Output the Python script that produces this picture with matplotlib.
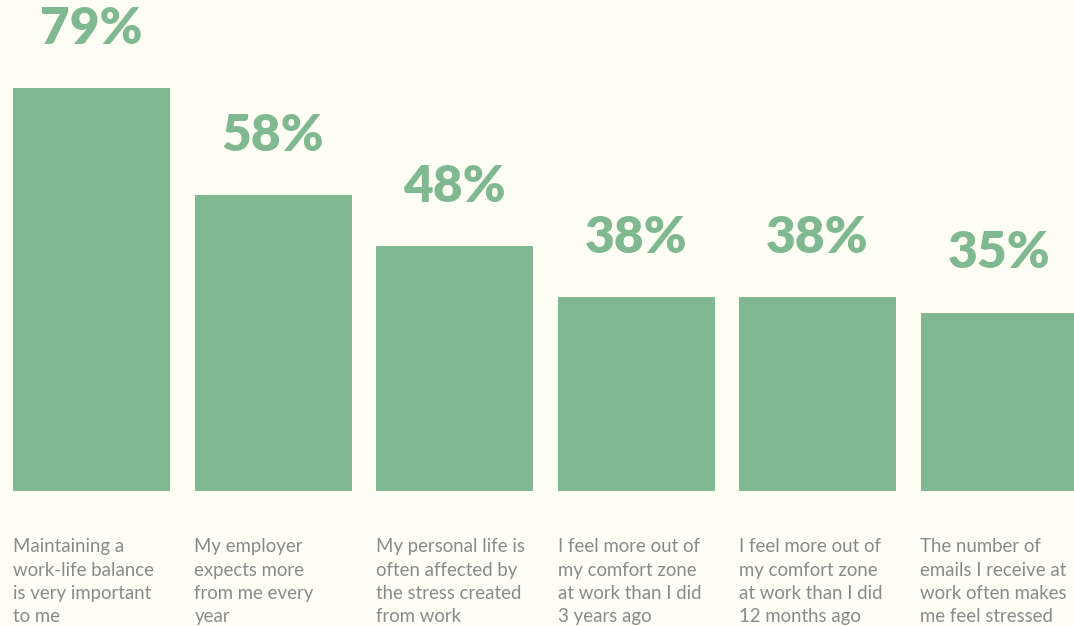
import matplotlib
matplotlib.use("Agg")
import matplotlib.pyplot as plt

# data
categories = [
    "Maintaining a\nwork-life balance\nis very important\nto me",
    "My employer\nexpects more\nfrom me every\nyear",
    "My personal life is\noften affected by\nthe stress created\nfrom work",
    "I feel more out of\nmy comfort zone\nat work than I did\n3 years ago",
    "I feel more out of\nmy comfort zone\nat work than I did\n12 months ago",
    "The number of\nemails I receive at\nwork often makes\nme feel stressed",
]
values = [79, 58, 48, 38, 38, 35]

bg = '#fefef5'
green = '#80b991'
grey = '#8a8a8a'

W, H, dpi = 1074, 626, 100
fig = plt.figure(figsize=(W / dpi, H / dpi), dpi=dpi, facecolor=bg)
# axes: full width, bottom at bar baseline (y=491 px from top)
ax = fig.add_axes([0, (H - 491) / H, 1, 491 / H])
ax.set_facecolor(bg)

pitch = 181.5  # px between bar centres
first = 91.5   # px centre of first bar
bw = 157 / pitch
ax.set_xlim(-first / pitch, (W - first) / pitch)
ax.set_ylim(0, 491 / 5.1)

xs = list(range(len(values)))
ax.bar(xs, values, width=bw, color=green)

for x, v in zip(xs, values):
    ax.annotate(f"{v}%", xy=(x, v), xytext=(0, 32), textcoords='offset points',
                ha='center', va='baseline', fontsize=37, fontweight='heavy',
                family=['Lato', 'DejaVu Sans'], color=green)

for x, lab in zip(xs, categories):
    ax.annotate(lab, xy=(x - bw / 2, 0), xycoords=('data', 'axes fraction'),
                xytext=(0, -34), textcoords='offset points',
                ha='left', va='top', fontsize=13.4, linespacing=1.45,
                family=['Lato', 'DejaVu Sans'], color=grey,
                annotation_clip=False)

ax.axis('off')
fig.savefig('out.png', dpi=dpi, facecolor=bg)
